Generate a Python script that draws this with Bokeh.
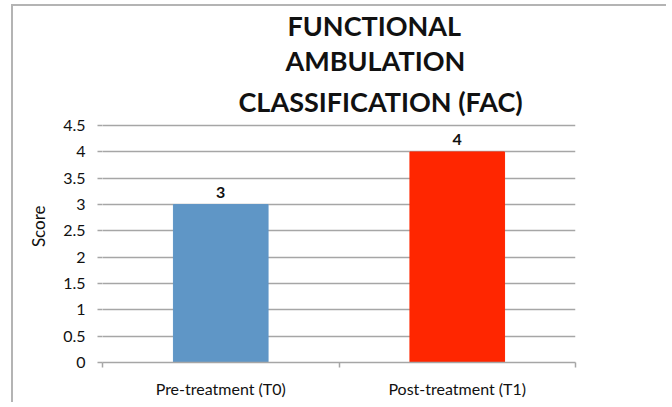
from bokeh.plotting import figure
from bokeh.models import FixedTicker, Range1d, ColumnDataSource, Title
from bokeh.core.properties import value
from bokeh.embed import file_html
from bokeh.resources import INLINE

# ---- data ----
categories = ["Pre-treatment (T0)", "Post-treatment (T1)"]
scores = [3, 4]
bar_colors = ["#5f96c6", "#ff2600"]
y_ticks = [0, 0.5, 1, 1.5, 2, 2.5, 3, 3.5, 4, 4.5]
title_lines = ["FUNCTIONAL", "AMBULATION", "CLASSIFICATION (FAC)"]
y_label = "Score"

positions = [i + 0.5 for i in range(len(categories))]
boundaries = list(range(len(categories) + 1))

src = ColumnDataSource(dict(x=positions, top=scores, color=bar_colors,
                            label=[str(s) for s in scores]))

FONT = "Lato"
GRID = "#a6a6a6"
TXT = "#111111"

p = figure(width=655, height=398, output_backend="svg", toolbar_location=None,
           x_range=Range1d(0, len(categories)), y_range=Range1d(0, 4.54),
           min_border_left=89, min_border_right=93, min_border_top=117,
           min_border_bottom=42,
           styles={"margin-left": "11px", "margin-top": "4px",
                   "border-left": "2px solid #b4b4b4",
                   "border-top": "2px solid #b4b4b4"})
p.outline_line_color = None
p.background_fill_color = "white"
p.border_fill_color = "white"

p.vbar(x="x", top="top", width=0.4, color="color", source=src)
p.text(x="x", y="top", text="label", source=src, text_align="center",
       text_baseline="bottom", y_offset=-7, text_font=value(FONT),
       text_font_size="16px", text_font_style="bold", text_color=TXT)

# title: three lines, stacked upward from the plot frame
title_offsets = [185, 183, 136]          # left offset of each line (px)
title_standoffs = [0, 0, 12]
p.title.visible = False
for line, off, so in reversed(list(zip(title_lines, title_offsets, title_standoffs))):
    p.add_layout(Title(text=line, align="left", offset=off, standoff=so,
                       text_font=FONT, text_font_size="27px",
                       text_font_style="bold", text_color=TXT), "above")

# y axis label as a side title so it can sit where the original has it
p.add_layout(Title(text=y_label, align="right", offset=82, vertical_align="top",
                   standoff=20, text_font=FONT, text_font_size="17px",
                   text_font_style="normal", text_color=TXT), "left")

# x axis
p.xaxis.ticker = FixedTicker(ticks=positions, minor_ticks=boundaries)
p.xaxis.major_label_overrides = {pos: c for pos, c in zip(positions, categories)}
p.xaxis.major_tick_line_color = None
p.xaxis.minor_tick_line_color = GRID
p.xaxis.minor_tick_line_width = 1.5
p.xaxis.minor_tick_out = 5
p.xaxis.minor_tick_in = 0
p.xaxis.axis_line_color = GRID
p.xaxis.axis_line_width = 1.5
p.xaxis.major_label_text_font = FONT
p.xaxis.major_label_text_font_size = "16px"
p.xaxis.major_label_text_color = TXT
p.xaxis.major_label_standoff = 10

# y axis
p.yaxis.ticker = FixedTicker(ticks=y_ticks)
p.yaxis.axis_line_color = None
p.yaxis.major_tick_line_color = GRID
p.yaxis.major_tick_line_width = 1.5
p.yaxis.major_tick_out = 5
p.yaxis.major_tick_in = 0
p.yaxis.minor_tick_line_color = None
p.yaxis.major_label_text_font = FONT
p.yaxis.major_label_text_font_size = "16px"
p.yaxis.major_label_text_color = TXT
p.yaxis.major_label_standoff = 12

p.xgrid.grid_line_color = None
p.ygrid.grid_line_color = GRID
p.ygrid.grid_line_width = 1.5

open("out.html", "w").write(file_html(p, INLINE))
